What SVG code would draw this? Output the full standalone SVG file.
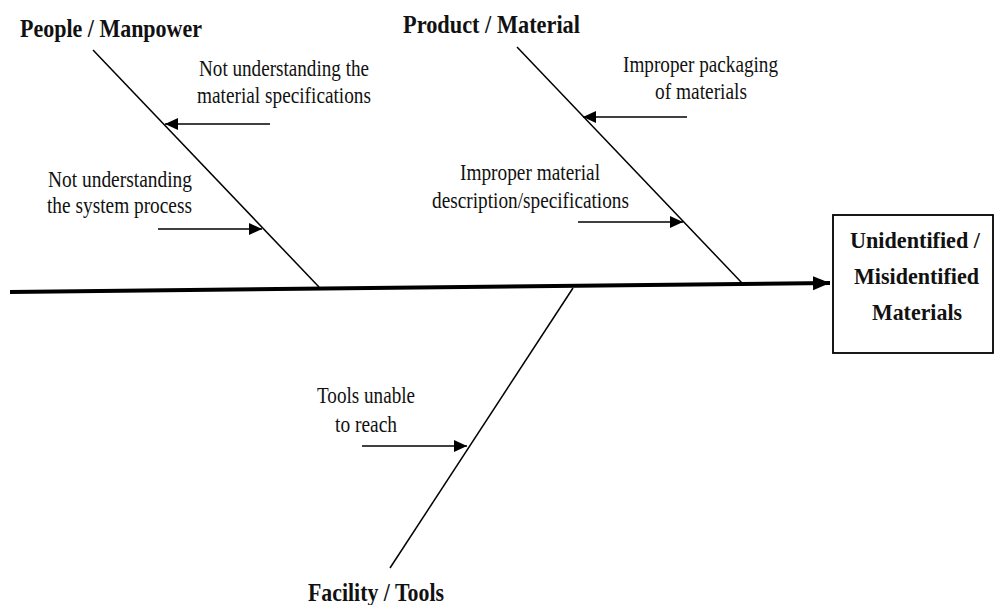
<svg xmlns="http://www.w3.org/2000/svg" width="995" height="605" viewBox="0 0 995 605">
<style>
.bone{stroke:#000;stroke-width:1.5;fill:none}
.cause{stroke:#000;stroke-width:1.6;fill:none;marker-end:url(#ah)}
text{font-family:'Liberation Serif','Times New Roman',Tinos,'DejaVu Serif',serif;fill:#111}
.lbl{font-size:23px}
.hd{font-size:25px;font-weight:bold}
.bx{font-size:24px;font-weight:bold}
</style>
<defs>
<marker id="ah" markerUnits="userSpaceOnUse" markerWidth="14" markerHeight="14" viewBox="0 0 14 14" refX="13" refY="7" orient="auto">
<path d="M0,1 L13,7 L0,13 Z" fill="#000"/>
</marker>
<marker id="big" markerUnits="userSpaceOnUse" markerWidth="18" markerHeight="18" viewBox="0 0 18 18" refX="17" refY="9" orient="auto">
<path d="M0,2 L17,9 L0,16 Z" fill="#000"/>
</marker>
</defs>
<rect width="995" height="605" fill="#fff"/>
<g id="connectors">
<line x1="10" y1="292" x2="830" y2="283" stroke="#000" stroke-width="4" marker-end="url(#big)"/>
<line class="bone" x1="93" y1="50" x2="319" y2="287"/>
<line class="bone" x1="517" y1="47" x2="742" y2="283"/>
<line class="bone" x1="573" y1="288" x2="390" y2="568"/>
<line class="cause" x1="270" y1="124" x2="165" y2="124"/>
<line class="cause" x1="158" y1="229" x2="262" y2="229"/>
<line class="cause" x1="687" y1="117" x2="583" y2="117"/>
<line class="cause" x1="578" y1="222" x2="683" y2="222"/>
<line class="cause" x1="362" y1="446" x2="467" y2="446"/>
</g>
<g id="people"><text class="hd" x="20" y="37" textLength="182" lengthAdjust="spacingAndGlyphs">People / Manpower</text></g>
<g id="product"><text class="hd" x="403" y="33" textLength="177" lengthAdjust="spacingAndGlyphs">Product / Material</text></g>
<g id="facility"><text class="hd" x="308" y="601" textLength="136" lengthAdjust="spacingAndGlyphs">Facility / Tools</text></g>
<g id="effect">
<rect x="833" y="215" width="160" height="138" fill="#fff" stroke="#000" stroke-width="1.8"/>
<text class="bx" x="850" y="248" textLength="130" lengthAdjust="spacingAndGlyphs">Unidentified /</text>
<text class="bx" x="854" y="284" textLength="125" lengthAdjust="spacingAndGlyphs">Misidentified</text>
<text class="bx" x="872" y="320" textLength="90" lengthAdjust="spacingAndGlyphs">Materials</text>
</g>
<g id="cause-material-spec">
<text class="lbl" x="199" y="76" textLength="170" lengthAdjust="spacingAndGlyphs">Not understanding the</text>
<text class="lbl" x="197" y="103" textLength="174" lengthAdjust="spacingAndGlyphs">material specifications</text>
</g>
<g id="cause-system-process">
<text class="lbl" x="48" y="187" textLength="144" lengthAdjust="spacingAndGlyphs">Not understanding</text>
<text class="lbl" x="47" y="213" textLength="145" lengthAdjust="spacingAndGlyphs">the system process</text>
</g>
<g id="cause-packaging">
<text class="lbl" x="623" y="72" textLength="155" lengthAdjust="spacingAndGlyphs">Improper packaging</text>
<text class="lbl" x="655" y="99" textLength="92" lengthAdjust="spacingAndGlyphs">of materials</text>
</g>
<g id="cause-description">
<text class="lbl" x="460" y="180" textLength="140" lengthAdjust="spacingAndGlyphs">Improper material</text>
<text class="lbl" x="432" y="208" textLength="197" lengthAdjust="spacingAndGlyphs">description/specifications</text>
</g>
<g id="cause-tools">
<text class="lbl" x="317" y="403" textLength="98" lengthAdjust="spacingAndGlyphs">Tools unable</text>
<text class="lbl" x="335" y="432" textLength="62" lengthAdjust="spacingAndGlyphs">to reach</text>
</g>
</svg>
